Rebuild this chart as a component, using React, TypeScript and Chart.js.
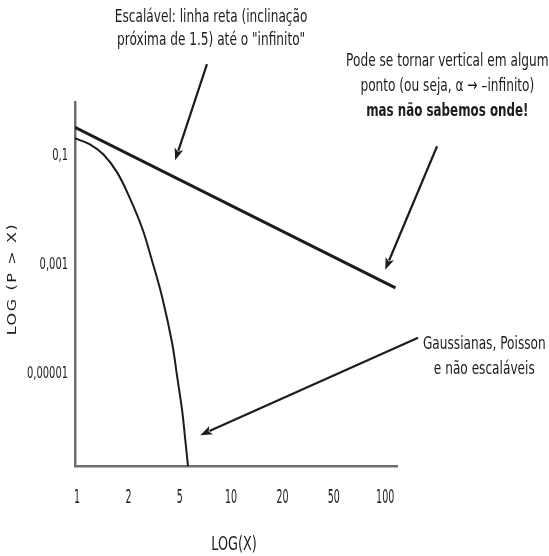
import React, { useEffect, useRef } from "react";
import { Chart, registerables } from "chart.js";

Chart.register(...registerables);

// ---- data ----
const xTickValues = [0, 1, 2, 3, 4, 5, 6];
const xTickLabels = ["1", "2", "5", "10", "20", "50", "100"];
const yTickValues = [0.1, 0.001, 0.00001];
const yTickLabels = ["0,1", "0,001", "0,00001"];

const scalableX = [-0.04, 6.2];
const scalableY = [0.343, 3.8e-4];

const gaussX = [-0.04, 0.25, 0.51, 0.78, 1.03, 1.27, 1.46, 1.66, 1.85, 1.95, 2.05, 2.1, 2.16];
const gaussY = [0.215, 0.166, 0.109, 0.0507, 0.0168, 0.0047, 0.0012, 2.5e-4, 3.7e-5, 8.7e-6, 1.97e-6, 7.1e-7, 2.0e-7];

const xTitle = "LOG(X)";
const yTitle = "LOG (P > X)";

const noteScalable = ["Escalável: linha reta (inclinação", "próxima de 1.5) até o \"infinito\""];
const noteVertical = ["Pode se tornar vertical em algum", "ponto (ou seja, α → –infinito)", "mas não sabemos onde!"];
const noteGauss = ["Gaussianas, Poisson", "e não escaláveis"];

// annotation anchors in data coordinates
const noteAnchorsX = [2.61, 7.21, 7.93];
const noteAnchorsY = [36.0, 5.6, 3.5e-5];

const arrowFromX = [2.53, 7.01, 6.64];
const arrowFromY = [4.98, 0.153, 4.6e-5];
const arrowToX = [1.91, 6.0, 2.4];
const arrowToY = [0.0844, 8.2e-4, 7.4e-7];

const INK = "#1c1c1c";
const FONT = "'DejaVu Sans', sans-serif";
const SQUISH = 0.675;

function drawText(
  ctx: CanvasRenderingContext2D,
  text: string,
  x: number,
  y: number,
  font: string,
  sx: number,
  align: CanvasTextAlign
) {
  ctx.save();
  ctx.translate(x, y);
  ctx.scale(sx, 1);
  ctx.font = font;
  ctx.fillStyle = INK;
  ctx.textAlign = align;
  ctx.textBaseline = "middle";
  ctx.fillText(text, 0, 0);
  ctx.restore();
}

function drawArrow(ctx: CanvasRenderingContext2D, x1: number, y1: number, x2: number, y2: number) {
  const ang = Math.atan2(y2 - y1, x2 - x1);
  const headLen = 12;
  const headW = 4.5;
  const bx = x2 - Math.cos(ang) * headLen;
  const by = y2 - Math.sin(ang) * headLen;
  ctx.save();
  ctx.strokeStyle = INK;
  ctx.fillStyle = INK;
  ctx.lineWidth = 2.2;
  ctx.beginPath();
  ctx.moveTo(x1, y1);
  ctx.lineTo(bx + Math.cos(ang) * 2, by + Math.sin(ang) * 2);
  ctx.stroke();
  ctx.beginPath();
  ctx.moveTo(x2, y2);
  ctx.lineTo(bx - Math.sin(ang) * headW, by + Math.cos(ang) * headW);
  ctx.lineTo(bx + Math.cos(ang) * 3, by + Math.sin(ang) * 3);
  ctx.lineTo(bx + Math.sin(ang) * headW, by - Math.cos(ang) * headW);
  ctx.closePath();
  ctx.fill();
  ctx.restore();
}

const annotationPlugin = {
  id: "annotations",
  afterDraw(chart: any) {
    const ctx: CanvasRenderingContext2D = chart.ctx;
    const xs = chart.scales.x;
    const ys = chart.scales.y;
    const area = chart.chartArea;

    // x tick labels
    xTickLabels.forEach((lab, i) => {
      drawText(ctx, lab, xs.getPixelForValue(xTickValues[i]), area.bottom + 32, `19px ${FONT}`, 0.5, "center");
    });
    // y tick labels
    yTickLabels.forEach((lab, i) => {
      drawText(ctx, lab, area.left - 7, ys.getPixelForValue(yTickValues[i]), `16px ${FONT}`, 0.62, "right");
    });
    // x title
    drawText(ctx, xTitle, (area.left + area.right) / 2 - 2, area.bottom + 79, `19px ${FONT}`, SQUISH, "center");
    // y title (rotated, letter-spaced)
    ctx.save();
    ctx.translate(13, (area.top + area.bottom) / 2 - 5);
    ctx.rotate(-Math.PI / 2);
    ctx.scale(1, 0.75);
    ctx.font = `16px ${FONT}`;
    (ctx as any).letterSpacing = "1.6px";
    ctx.fillStyle = INK;
    ctx.textAlign = "center";
    ctx.textBaseline = "middle";
    ctx.fillText(yTitle, 0, 0);
    ctx.restore();

    // notes
    const notes = [noteScalable, noteVertical, noteGauss];
    const lineHeights = [23, 25, 25];
    notes.forEach((lines, n) => {
      const cx = xs.getPixelForValue(noteAnchorsX[n]);
      const cy = ys.getPixelForValue(noteAnchorsY[n]);
      lines.forEach((line, i) => {
        const bold = n === 1 && i === 2;
        drawText(ctx, line, cx, cy + i * lineHeights[n], `${bold ? "bold " : ""}18px ${FONT}`, bold ? 0.66 : SQUISH, "center");
      });
    });

    // arrows
    arrowFromX.forEach((_, i) => {
      drawArrow(
        ctx,
        xs.getPixelForValue(arrowFromX[i]),
        ys.getPixelForValue(arrowFromY[i]),
        xs.getPixelForValue(arrowToX[i]),
        ys.getPixelForValue(arrowToY[i])
      );
    });
  },
};

export default function App() {
  const ref = useRef<HTMLCanvasElement | null>(null);
  useEffect(() => {
    if (!ref.current) return;
    const chart = new Chart(ref.current, {
      type: "line",
      data: {
        datasets: [
          {
            label: "Escalável",
            data: scalableX.map((x, i) => ({ x, y: scalableY[i] })),
            borderColor: INK,
            borderWidth: 3,
            pointRadius: 0,
            tension: 0,
          },
          {
            label: "Gaussianas",
            data: gaussX.map((x, i) => ({ x, y: gaussY[i] })),
            borderColor: INK,
            borderWidth: 2,
            pointRadius: 0,
            tension: 0.4,
          },
        ],
      },
      options: {
        responsive: true,
        maintainAspectRatio: false,
        animation: false,
        layout: { padding: { left: 75, top: 102, right: 152, bottom: 90 } },
        plugins: { legend: { display: false }, tooltip: { enabled: false } },
        scales: {
          x: {
            type: "linear",
            min: -0.04,
            max: 6.23,
            grid: { display: false, drawTicks: false },
            ticks: { display: false },
            border: { display: true, color: "#6e6e6e", width: 2.5 },
          },
          y: {
            type: "logarithmic",
            min: 2e-7,
            max: 1,
            grid: { display: false, drawTicks: false },
            ticks: { display: false },
            border: { display: true, color: "#6e6e6e", width: 2.5 },
          },
        },
      } as any,
      plugins: [annotationPlugin],
    });
    return () => chart.destroy();
  }, []);
  return (
    <div style={{ position: "absolute", left: 0, top: 0, width: 549, height: 556, background: "#fff" }}>
      <canvas ref={ref} />
    </div>
  );
}
